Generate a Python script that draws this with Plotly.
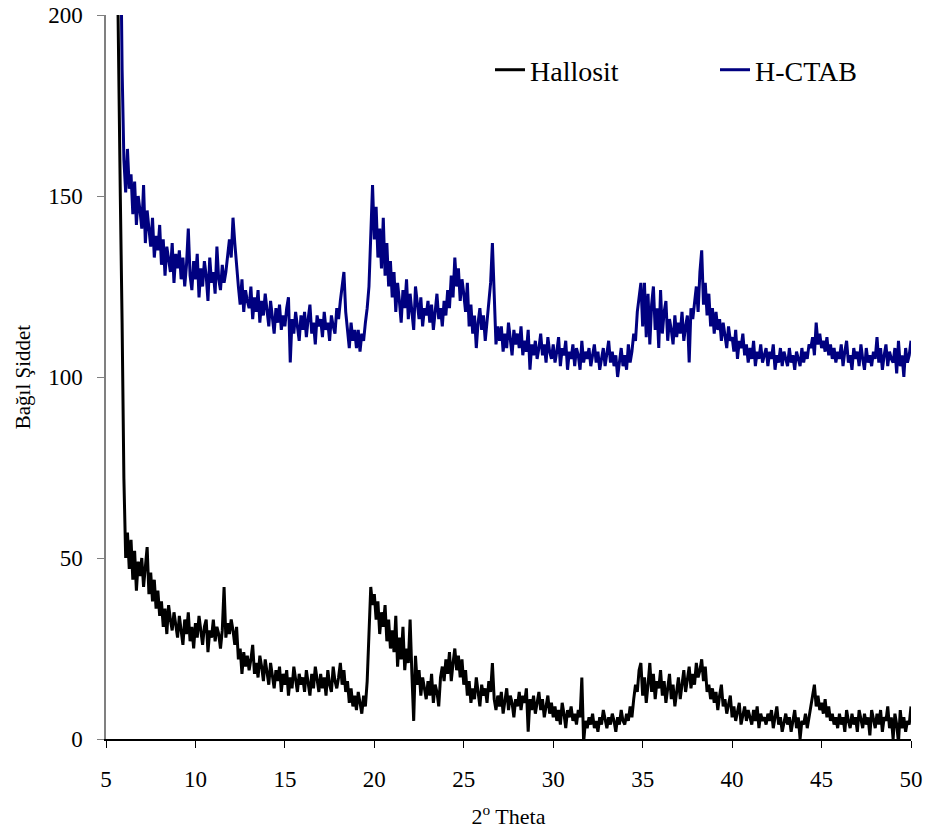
import plotly.graph_objects as go

x_start = 5.6
x_step = 0.1

hallosit = [
    230, 185, 150, 115,
    72, 50, 57, 47, 55, 44, 52, 41, 49, 45,
    50, 42, 47, 53, 40, 46, 38, 44, 36, 41,
    34, 38, 31, 36, 29, 37, 33, 30, 35, 32,
    28, 34, 30, 26, 33, 29, 35, 27, 31, 25,
    32, 28, 34, 29, 26, 31, 33, 24, 30, 28,
    33, 27, 31, 29, 25, 30, 42, 28, 32, 29,
    33, 30, 26, 31, 22, 25, 18, 24, 20, 23,
    19, 22, 26, 18, 21, 17, 23, 20, 16, 22,
    18, 15, 21, 17, 14, 19, 16, 20, 13, 18,
    15, 19, 12, 17, 14, 20, 16, 13, 18, 15,
    17, 13, 19, 15, 12, 18, 14, 20, 16, 13,
    18, 14, 17, 12, 19, 15, 13, 20, 16, 14,
    17, 21, 15, 19, 13, 16, 10, 14, 9, 12,
    8, 13, 10, 7, 12, 9, 16, 28, 42, 37,
    40, 33, 38, 29, 35, 31, 37, 27, 33, 25,
    30, 24, 34, 20, 28, 22, 31, 19, 25, 21,
    33, 18, 5, 23, 15, 19, 12, 17, 14, 11,
    16, 12, 18, 10, 15, 13, 9, 17, 20, 16,
    22, 18, 24, 16, 21, 25, 19, 23, 17, 22,
    15, 19, 12, 16, 10, 14, 11, 17, 13, 9,
    15, 12, 14, 10, 16, 13, 21, 11, 8, 12,
    9, 13, 7, 11, 14, 8, 12, 10, 6, 11,
    9, 13, 8, 12, 10, 14, 2, 11, 8, 12,
    7, 10, 13, 8, 11, 6, 9, 12, 7, 10,
    6, 9, 5, 8, 4, 10, 7, 3, 8, 6,
    9, 5, 7, 4, 8, 6, 17, -1, 5, 3,
    6, 4, 7, 3, 5, 2, 6, 4, 8, 5,
    3, 6, 4, 7, 5, 2, 6, 4, 8, 5,
    4, 7, 5, 9, 6, 11, 15, 13, 19, 21,
    12, 17, 10, 15, 21, 13, 18, 11, 16, 14,
    19, 12, 16, 10, 14, 18, 11, 15, 9, 13,
    17, 11, 15, 19, 13, 16, 20, 14, 18, 15,
    21, 17, 19, 22, 16, 20, 13, 15, 11, 14,
    10, 13, 8, 12, 15, 9, 11, 7, 10, 12,
    6, 9, 5, 8, 10, 4, 7, 9, 5, 8,
    6, 4, 8, 5, 9, 3, 7, 5, 6, 4,
    7, 5, 8, 3, 6, 9, 4, 6, 2, 5,
    7, 4, 6, 2, 5, 8, 3, 6, 0, 5,
    4, 7, 3, 6, 8, 11, 15, 9, 12, 8,
    10, 7, 11, 6, 9, 5, 7, 4, 6, 3,
    7, 4, 6, 2, 8, 5, 3, 7, 4, 6,
    2, 8, 5, 3, 7, 4, 6, 1, 8, 5,
    3, 7, 4, 8, 2, 6, 5, 9, 3, 6,
    0, 7, 4, -1, 8, 3, 6, 2, 5, 4,
    9,
]

h_ctab = [
    420, 300, 230, 185,
    160, 151, 163, 152, 156, 145, 154, 142, 150, 146,
    141, 153, 137, 146, 140, 136, 144, 133, 139, 135,
    142, 131, 138, 128, 136, 133, 129, 137, 126, 134,
    130, 135, 127, 133, 125, 131, 141, 128, 124, 132,
    127, 134, 122, 130, 125, 132, 128, 121, 133, 126,
    129, 123, 136, 127, 124, 131, 126, 129, 134, 138,
    133, 144, 137, 130, 125, 120, 127, 118, 124, 121,
    119, 125, 116, 122, 118, 124, 115, 121, 117, 123,
    118, 114, 121, 116, 112, 119, 115, 120, 113, 117,
    114, 119, 122, 104, 116, 112, 118, 114, 110, 117,
    113, 118, 111, 116, 120, 112, 115, 109, 117, 114,
    116, 111, 118, 113, 115, 110, 117, 114, 112, 119,
    116, 121, 126, 129, 118, 112, 108, 115, 110, 113,
    108, 113, 107, 112, 110, 115, 119, 125, 140, 153,
    138, 147, 133, 141, 130, 144, 128, 137, 125, 132,
    122, 129, 118, 126, 121, 115, 124, 119, 127, 116,
    123, 118, 113, 125, 120, 116, 122, 114, 119, 117,
    121, 115, 120, 113, 118, 123, 116, 119, 114, 121,
    117, 124, 119, 128, 122, 133, 125, 130, 121, 127,
    123, 118, 126, 114, 120, 112, 117, 108, 115, 119,
    113, 117, 110, 116, 120, 126, 137, 121, 109, 114,
    110, 114, 107, 112, 108, 115, 111, 106, 113, 109,
    112, 108, 114, 106, 110, 107, 113, 102, 109, 106,
    110, 105, 108, 112, 106, 109, 104, 111, 107, 105,
    109, 104, 107, 111, 103, 108, 106, 110, 102, 107,
    105, 109, 103, 108, 106, 102, 110, 104, 107, 105,
    108, 103, 106, 109, 104, 107, 102, 105, 108, 103,
    106, 110, 104, 107, 103, 106, 100, 105, 108, 103,
    106, 102, 109, 104, 107, 112, 110, 118, 122, 126,
    114, 126, 111, 123, 109, 120, 125, 113, 119, 108,
    124, 112, 118, 121, 110, 116, 113, 109, 117, 111,
    115, 112, 118, 110, 114, 117, 104, 119, 116, 121,
    125, 118, 129, 135, 120, 126, 117, 123, 114, 119,
    112, 118, 113, 116, 110, 115, 112, 108, 114, 110,
    111, 107, 113, 105, 110, 108, 112, 106, 109, 104,
    108, 105, 110, 103, 107, 105, 109, 104, 106, 108,
    103, 107, 105, 109, 102, 106, 104, 108, 103, 107,
    105, 103, 108, 104, 106, 102, 107, 105, 103, 108,
    104, 107, 105, 109, 108, 111, 106, 115, 109, 112,
    108, 110, 107, 111, 106, 109, 105, 108, 104, 107,
    105, 109, 103, 107, 110, 104, 106, 102, 108, 105,
    107, 103, 109, 105, 102, 108, 104, 106, 103, 107,
    105, 111, 104, 108, 102, 106, 109, 103, 107, 105,
    104, 108, 101, 110, 103, 106, 100, 108, 104, 106,
    110,
]

x_tick_vals = [5, 10, 15, 20, 25, 30, 35, 40, 45, 50]
y_tick_vals = [0, 50, 100, 150, 200]

two_theta = [round(x_start + i * x_step, 2) for i in range(len(hallosit))]

FONT = "Liberation Serif, Times New Roman, serif"

fig = go.Figure()
fig.add_trace(go.Scatter(x=two_theta, y=hallosit, mode="lines", name="Hallosit",
                         line=dict(color="#000000", width=3), legend="legend"))
fig.add_trace(go.Scatter(x=two_theta, y=h_ctab, mode="lines", name="H-CTAB",
                         line=dict(color="#000080", width=3), legend="legend2"))

legend_common = dict(yanchor="middle", xanchor="left", y=0.924,
                     font=dict(family=FONT, size=28, color="black"),
                     bgcolor="rgba(0,0,0,0)")

fig.update_layout(
    width=928, height=834,
    margin=dict(l=106, r=17, t=15, b=95, autoexpand=False),
    paper_bgcolor="white", plot_bgcolor="white",
    font=dict(family=FONT, size=23, color="black"),
    showlegend=True,
    legend=dict(x=0.477, **legend_common),
    legend2=dict(x=0.7565, **legend_common),
    xaxis=dict(range=[5, 50], tickvals=x_tick_vals, ticks="outside", ticklen=7,
               tickcolor="black", showline=True, linecolor="black", linewidth=1.5,
               showgrid=False, zeroline=False, ticklabelstandoff=12, automargin=False,
               tickfont=dict(family=FONT, size=23),
               title=dict(text="2<sup>o</sup> Theta", font=dict(family=FONT, size=22), standoff=17)),
    yaxis=dict(range=[0, 200], tickvals=y_tick_vals, ticks="outside", ticklen=7,
               tickcolor="#808080", showline=True, linecolor="#808080", linewidth=1.5,
               showgrid=False, zeroline=False, ticklabelstandoff=10, automargin=False,
               tickfont=dict(family=FONT, size=23),
               title=dict(text="Bağıl Şiddet", font=dict(family=FONT, size=21), standoff=12)),
)

fig.write_html("out.html")
